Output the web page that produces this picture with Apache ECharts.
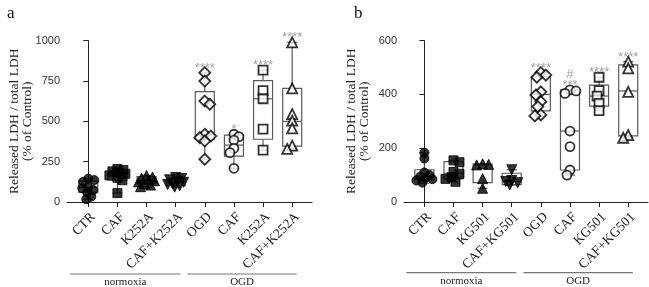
<!DOCTYPE html>
<html><head><meta charset="utf-8">
<script src="https://cdn.jsdelivr.net/npm/echarts@6/dist/echarts.min.js"></script>
<style>html,body{margin:0;padding:0;background:#fff}#c{width:649px;height:287px}</style>
</head><body><div id="c"></div>
<script>
// ---------- data ----------
const catsA = ['CTR', 'CAF', 'K252A', 'CAF+K252A', 'OGD', 'CAF', 'K252A', 'CAF+K252A'];
const catsB = ['CTR', 'CAF', 'KG501', 'CAF+KG501', 'OGD', 'CAF', 'KG501', 'CAF+KG501'];
const groupNames = ['normoxia', 'OGD'];
const yTicksA = [0, 250, 500, 750, 1000];
const yTicksB = [0, 200, 400, 600];

// individual values per group (panel a)
const ptsA = [
  [145, 136, 126, 92, 85, 74, 58, 33, 17],
  [205, 198, 190, 182, 175, 165, 150, 135, 55],
  [165, 155, 148, 140, 132, 125, 115, 105, 95],
  [152, 145, 138, 130, 122, 115, 108, 100, 92],
  [802, 750, 626, 606, 420, 409, 399, 378, 265],
  [420, 405, 384, 333, 306, 209],
  [818, 690, 640, 452, 322],
  [990, 705, 545, 504, 457, 349, 329]
];
// box stats [min, Q1, median, Q3, max] (panel a)
const boxA = [
  [17, 60, 91, 130, 145],
  [55, 136, 157, 178, 205],
  [95, 116, 132, 157, 165],
  [92, 103, 122, 141, 152],
  [265, 389, 415, 684, 802],
  [209, 285, 353, 415, 420],
  [322, 389, 640, 752, 818],
  [329, 347, 500, 705, 990]
];
const sigA = ['', '', '', '', '****', '*', '****', '****'];

// panel b
const ptsB = [
  [183, 162, 110, 100, 95, 90, 85, 80, 72],
  [155, 148, 112, 105, 92, 86, 75],
  [142, 140, 138, 87, 51],
  [120, 80, 76, 72, 63],
  [481, 472, 464, 410, 398, 373, 355, 324, 320],
  [417, 413, 404, 264, 206, 119, 100],
  [464, 414, 394, 367, 340],
  [522, 497, 410, 249, 239]
];
const boxB = [
  [70, 82, 97, 120, 183],
  [75, 86, 107, 150, 155],
  [51, 72, 138, 141, 142],
  [63, 65, 76, 107, 120],
  [320, 339, 400, 466, 481],
  [100, 119, 264, 417, 417],
  [340, 357, 394, 435, 464],
  [239, 246, 413, 510, 522]
];
const sigB = ['', '', '', '', '****', '#\n***', '****', '****'];

// ---------- styles ----------
const symbols = ['circle', 'rect', 'triangle', 'triangle', 'diamond', 'circle', 'rect', 'triangle'];
const rotates = [0, 0, 0, 180, 0, 0, 0, 0];
const SERIF = '"Liberation Serif", "Times New Roman", serif';
const SANS = '"Liberation Sans", Arial, sans-serif';

const chart = echarts.init(document.getElementById('c'));

function renderBox(params, api) {
  const x = api.value(0);
  const p = [1, 2, 3, 4, 5].map(k => api.coord([x, api.value(k)]));
  const cx = p[0][0];
  const hw = 9.5, cw = 5;
  const st = { stroke: '#5a5a5a', lineWidth: 1.2, fill: null };
  return { type: 'group', children: [
    { type: 'line', shape: { x1: cx, y1: p[0][1], x2: cx, y2: p[1][1] }, style: st },
    { type: 'line', shape: { x1: cx, y1: p[3][1], x2: cx, y2: p[4][1] }, style: st },
    { type: 'line', shape: { x1: cx - cw, y1: p[0][1], x2: cx + cw, y2: p[0][1] }, style: st },
    { type: 'line', shape: { x1: cx - cw, y1: p[4][1], x2: cx + cw, y2: p[4][1] }, style: st },
    { type: 'rect', shape: { x: cx - hw, y: p[3][1], width: 2 * hw, height: p[1][1] - p[3][1] }, style: { stroke: '#5a5a5a', lineWidth: 1.2, fill: '#fff' } },
    { type: 'line', shape: { x1: cx - hw, y1: p[2][1], x2: cx + hw, y2: p[2][1] }, style: st }
  ] };
}

function pointData(pts, offsets) {
  const out = [];
  pts.forEach((g, i) => {
    g.forEach((v, j) => {
      const filled = i < 4;
      out.push({
        value: [i + (offsets ? offsets[i][j] : 0), v],
        symbol: symbols[i],
        symbolRotate: rotates[i],
        symbolSize: symbols[i] === 'diamond' ? 11 : (symbols[i] === 'triangle' ? 10 : 9),
        itemStyle: filled ? { color: '#000', borderColor: '#000', borderWidth: 1 }
                          : { color: '#fff', borderColor: '#000', borderWidth: 1.8 }
      });
    });
  });
  return out;
}

function xAxisCfg(gi, cats, min, max) {
  return {
    gridIndex: gi, type: 'value', min: min, max: max,
    splitLine: { show: false },
    axisLine: { lineStyle: { color: '#222', width: 1 } },
    axisTick: { show: true, length: 5, lineStyle: { color: '#222' }, customValues: [0, 1, 2, 3, 4, 5, 6, 7] },
    axisLabel: {
      customValues: [0, 1, 2, 3, 4, 5, 6, 7],
      formatter: v => cats[Math.round(v)],
      rotate: 45, margin: 8, verticalAlign: 'top', fontFamily: SERIF, fontSize: 13.5, color: '#222'
    }
  };
}
function yAxisCfg(gi, ticks) {
  return {
    gridIndex: gi, type: 'value', min: ticks[0], max: ticks[ticks.length - 1],
    interval: ticks[1] - ticks[0],
    splitLine: { show: false },
    axisLine: { show: true, lineStyle: { color: '#222', width: 1 } },
    axisTick: { show: true, length: 5, lineStyle: { color: '#222' } },
    axisLabel: { fontFamily: SANS, fontSize: 11, color: '#333', margin: 7, formatter: v => String(v) },
    name: 'Released LDH / total LDH\n(% of Control)',
    nameLocation: 'middle', nameRotate: 90, nameGap: 33, nameMoveOverlap: false,
    nameTextStyle: { fontFamily: SERIF, fontSize: 13.5, color: '#222', lineHeight: 13 }
  };
}

function sigData(box, sig) {
  return box.map((b, i) => ({ value: [i, b[4]], label: { formatter: sig[i] } }));
}

function buildOption(offA, offB) {
  return {
    animation: false,
    title: [
      { text: 'a', left: 2, top: 0, textStyle: { fontFamily: SERIF, fontSize: 17, fontWeight: 'normal', color: '#111' } },
      { text: 'b', left: 349, top: 0, textStyle: { fontFamily: SERIF, fontSize: 17, fontWeight: 'normal', color: '#111' } }
    ],
    grid: [
      { left: 67, width: 245, top: 40.7, height: 161.3 },
      { left: 404, width: 244, top: 40.7, height: 161.3 }
    ],
    xAxis: [xAxisCfg(0, catsA, -0.73, 7.68), xAxisCfg(1, catsB, -0.7, 7.68)],
    yAxis: [yAxisCfg(0, yTicksA), yAxisCfg(1, yTicksB)],
    series: [
      { type: 'custom', xAxisIndex: 0, yAxisIndex: 0, renderItem: renderBox,
        encode: { x: 0, y: [1, 2, 3, 4, 5] }, data: boxA.map((b, i) => [i].concat(b)), z: 1 },
      { type: 'custom', xAxisIndex: 1, yAxisIndex: 1, renderItem: renderBox,
        encode: { x: 0, y: [1, 2, 3, 4, 5] }, data: boxB.map((b, i) => [i].concat(b)), z: 1 },
      { type: 'scatter', xAxisIndex: 0, yAxisIndex: 0, data: pointData(ptsA, offA), z: 3 },
      { type: 'scatter', xAxisIndex: 1, yAxisIndex: 1, data: pointData(ptsB, offB), z: 3 },
      { type: 'scatter', xAxisIndex: 0, yAxisIndex: 0, symbolSize: 0, data: sigData(boxA, sigA), z: 4, clip: false,
        label: { show: true, position: 'top', distance: -1, fontFamily: SANS, fontSize: 13, color: '#888', lineHeight: 11 } },
      { type: 'scatter', xAxisIndex: 1, yAxisIndex: 1, symbolSize: 0, data: sigData(boxB, sigB), z: 4, clip: false,
        label: { show: true, position: 'top', distance: -1, fontFamily: SANS, fontSize: 13, color: '#888', lineHeight: 11 } }
    ]
  };
}

chart.setOption(buildOption(null, null));

// deterministic beeswarm layout computed through the axes' scales
function swarm(pts, gi) {
  const f = { gridIndex: gi };
  const pxUnit = chart.convertToPixel(f, [1, 0])[0] - chart.convertToPixel(f, [0, 0])[0];
  const minD = 5.5, maxK = 8;
  return pts.map(g => {
    const py = g.map(v => chart.convertToPixel(f, [0, v])[1]);
    const order = g.map((v, j) => j).sort((a, b) => g[b] - g[a]);
    const placed = [];
    const off = new Array(g.length).fill(0);
    order.forEach((j, n) => {
      let chosen = null, best = -1, bestDx = 0;
      const signs = (n % 2) ? [1, -1] : [-1, 1];
      for (let k = 0; k <= maxK && chosen === null; k++) {
        for (const s of (k === 0 ? [1] : signs)) {
          const dx = s * k;
          let d = Infinity;
          for (const q of placed) {
            const ddx = dx - q[0], ddy = py[j] - q[1];
            d = Math.min(d, Math.sqrt(ddx * ddx + ddy * ddy));
          }
          if (d >= minD) { chosen = dx; break; }
          if (d > best) { best = d; bestDx = dx; }
        }
      }
      if (chosen === null) chosen = bestDx;
      placed.push([chosen, py[j]]);
      off[j] = chosen / pxUnit;
    });
    return off;
  });
}
const offA = swarm(ptsA, 0);
const offB = swarm(ptsB, 1);
const opt = buildOption(offA, offB);

// group brackets under the category labels
function brackets(gi, dy) {
  const f = { gridIndex: gi };
  const spans = [[-0.62, 3.16], [3.4, 7.16]];
  const els = [];
  spans.forEach((s, k) => {
    const p1 = chart.convertToPixel(f, [s[0], 0]);
    const p2 = chart.convertToPixel(f, [s[1], 0]);
    const y = p1[1] + dy;
    els.push({ type: 'line', shape: { x1: p1[0], y1: y, x2: p2[0], y2: y }, style: { stroke: '#777', lineWidth: 1.2 } });
    els.push({ type: 'text', x: (p1[0] + p2[0]) / 2, y: y + 8.5,
      style: { text: groupNames[k], font: '11px ' + SERIF, fill: '#222', textAlign: 'center', textVerticalAlign: 'middle' } });
  });
  return els;
}
opt.graphic = brackets(0, 72).concat(brackets(1, 70.7));
chart.setOption(opt, true);
</script></body></html>
